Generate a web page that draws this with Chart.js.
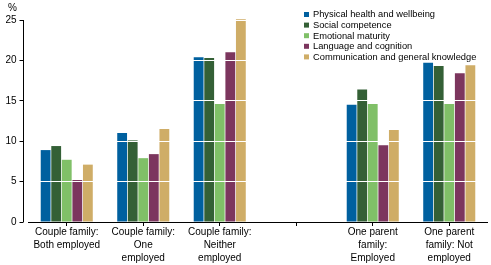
<!DOCTYPE html>
<html>
<head>
<meta charset="utf-8">
<script src="https://cdn.jsdelivr.net/npm/chart.js@4/dist/chart.umd.min.js"></script>
<style>
  body { margin: 0; background: #fff; }
  #wrap { width: 491px; height: 265px; }
</style>
</head>
<body>
<div id="wrap"><canvas id="chart"></canvas></div>
<script>
const categories = [
    ["Couple family:", "Both employed"],
    ["Couple family:", "One", "employed"],
    ["Couple family:", "Neither", "employed"],
    "",
    ["One parent", "family:", "Employed"],
    ["One parent", "family: Not", "employed"]
];
const seriesNames = [
    "Physical health and wellbeing",
    "Social competence",
    "Emotional maturity",
    "Language and cognition",
    "Communication and general knowledge"
];
const physical = [8.9, 11.0, 20.4, null, 14.5, 19.7];
const social = [9.4, 10.1, 20.3, null, 16.4, 19.3];
const emotional = [7.7, 7.9, 14.6, null, 14.6, 14.6];
const language = [5.2, 8.4, 21.0, null, 9.5, 18.4];
const communication = [7.1, 11.5, 25.1, null, 11.4, 19.4];
const yTicks = [0, 5, 10, 15, 20, 25];

const colors = ["#00609f", "#346036", "#80c068", "#7c365e", "#cfad67"];
const FONT = "'Liberation Sans', Arial, sans-serif";

// legend and the "%" unit label, drawn on top
const extras = {
    id: "extras",
    afterDraw(chart) {
        const ctx = chart.ctx;
        const area = chart.chartArea;
        ctx.save();
        ctx.font = "10px " + FONT;
        ctx.fillStyle = "#000";
        ctx.textBaseline = "middle";
        ctx.textAlign = "left";
        ctx.fillText("%", 8, 8);

        ctx.font = "9.3px " + FONT;
        const lx = area.right - 183.5;
        chart.data.datasets.forEach((ds, i) => {
            const y = 12 + i * 10.6;
            ctx.fillStyle = ds.backgroundColor;
            ctx.fillRect(lx, y, 5, 5);
            ctx.fillStyle = "#000";
            ctx.fillText(ds.label, lx + 9, y + 2.8);
        });

        // y axis line sits a little left of the plot area
        const ys = chart.scales.y;
        ctx.strokeStyle = "#000";
        ctx.lineWidth = 1;
        ctx.beginPath();
        ctx.moveTo(area.left - 5, ys.getPixelForValue(25));
        ctx.lineTo(area.left - 5, ys.getPixelForValue(0));
        ctx.stroke();
        ctx.restore();
    }
};

const allSeries = [physical, social, emotional, language, communication];

new Chart(document.getElementById("chart"), {
    type: "bar",
    data: {
        labels: categories,
        datasets: allSeries.map((vals, i) => ({
            label: seriesNames[i],
            data: vals,
            backgroundColor: colors[i],
            borderWidth: 0,
            categoryPercentage: 0.69,
            barPercentage: 0.93,
            clip: false
        }))
    },
    options: {
        responsive: true,
        maintainAspectRatio: false,
        animation: false,
        events: [],
        layout: { padding: { top: 20, right: 3.5, left: 0, bottom: 0 } },
        plugins: {
            legend: { display: false },
            tooltip: { enabled: false }
        },
        scales: {
            x: {
                offset: true,
                grid: {
                    offset: false,
                    drawOnChartArea: false,
                    color: "#000",
                    tickLength: 4,
                    z: 1
                },
                border: { color: "#000", z: 1 },
                ticks: {
                    color: "#000",
                    padding: 0,
                    maxRotation: 0,
                    autoSkip: false,
                    font: { family: FONT, size: 10, lineHeight: 1.27 }
                },
                afterFit(scale) { scale.height = 43; }
            },
            y: {
                min: 0,
                max: 25,
                afterBuildTicks(scale) {
                    scale.ticks = yTicks.map(v => ({ value: v }));
                },
                grid: {
                    z: 1,
                    color: ctx => (ctx.tick && ctx.tick.value === 0) ? "rgba(0,0,0,0)" : "#fff",
                    tickColor: "#000",
                    tickLength: 9,
                    tickBorderDash: [4, 20]
                },
                border: { display: false },
                ticks: {
                    color: "#000",
                    padding: 3,
                    font: { family: FONT, size: 10 }
                },
                afterFit(scale) { scale.width = 28.5; }
            }
        }
    },
    plugins: [extras]
});
</script>
</body>
</html>
